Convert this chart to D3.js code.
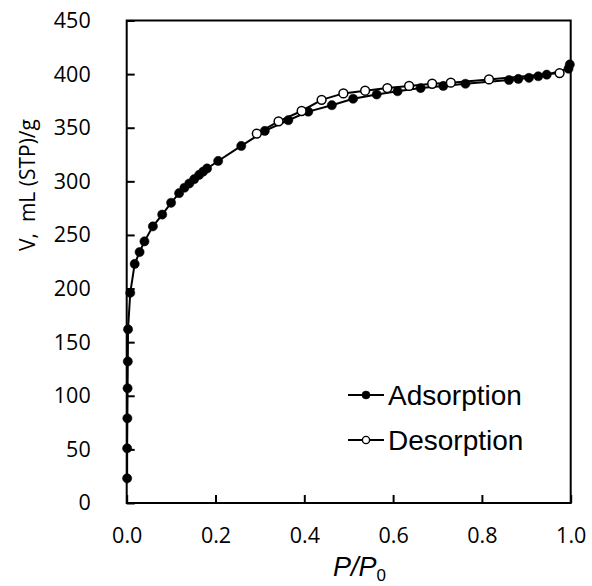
<!DOCTYPE html>
<html>
<head>
<meta charset="utf-8">
<script src="https://cdn.jsdelivr.net/npm/d3@7"></script>
<style>
  html, body { margin: 0; padding: 0; background: #fff; }
  svg { display: block; }
</style>
</head>
<body>
<svg id="chart" width="592" height="586"></svg>
<script>
// ---- data ----
const adsP = [0.001, 0.001, 0.0015, 0.002, 0.0025, 0.003, 0.008, 0.018, 0.029, 0.040, 0.059, 0.080, 0.100, 0.118, 0.130, 0.141, 0.152, 0.163, 0.172, 0.181, 0.206, 0.258, 0.311, 0.364, 0.409, 0.462, 0.510, 0.563, 0.610, 0.662, 0.713, 0.763, 0.861, 0.882, 0.906, 0.927, 0.946, 0.995, 0.998];
const adsV = [23, 51, 79, 107, 132, 162, 196, 223, 234, 244, 258, 269, 280, 289, 294, 298, 302, 306, 309, 312, 319, 333, 347, 357, 365, 371, 377, 381, 384, 387, 389, 391, 394.5, 395.5, 396.5, 398, 399.5, 405, 409];
const desP = [0.975, 0.816, 0.730, 0.688, 0.636, 0.587, 0.537, 0.488, 0.439, 0.394, 0.342, 0.293];
const desV = [401, 395, 392, 391, 389, 387, 384.5, 382, 376, 365.6, 356, 344.5];
const xTicks = [0, 0.2, 0.4, 0.6, 0.8, 1.0];
const yTicks = [0, 50, 100, 150, 200, 250, 300, 350, 400, 450];
const seriesNames = ["Adsorption", "Desorption"];

const svg = d3.select("#chart");
const L = 126.7, R = 570.7, T = 20.5, B = 503;

const x = d3.scaleLinear().domain([0, 1]).range([L, R]);
const y = d3.scaleLinear().domain([0, 450]).range([B, T]);

const tickFont = "'Open Sans', sans-serif";

// axes
const gx = svg.append("g").attr("transform", `translate(0,${B})`)
  .call(d3.axisBottom(x).tickValues(xTicks).tickFormat(d3.format(".1f")).tickSize(-8).tickPadding(25));
const gy = svg.append("g").attr("transform", `translate(${L},0)`)
  .call(d3.axisLeft(y).tickValues(yTicks).tickFormat(d3.format("d")).tickSize(-8).tickPadding(36));
[gx, gy].forEach(g => {
  g.select(".domain").remove();
  g.selectAll(".tick line").attr("stroke", "#000").attr("stroke-width", 2);
  g.selectAll(".tick text").attr("fill", "#000").style("font-family", tickFont).style("font-size", "21.5px");
});

// frame
svg.append("rect").attr("x", L).attr("y", T).attr("width", R - L).attr("height", B - T)
  .attr("fill", "none").attr("stroke", "#000").attr("stroke-width", 2);

// data
const ads = adsP.map((p, i) => [p, adsV[i]]);
const des = desP.map((p, i) => [p, desV[i]]);
const line = d3.line().x(d => x(d[0])).y(d => y(d[1]));

function drawSeries(data, fill) {
  svg.append("path").attr("d", line(data)).attr("fill", "none").attr("stroke", "#000").attr("stroke-width", 2);
  svg.append("g").selectAll("circle").data(data).join("circle")
    .attr("cx", d => x(d[0])).attr("cy", d => y(d[1]))
    .attr("r", fill === "#000" ? 4.6 : 4.4)
    .attr("fill", fill).attr("stroke", "#000").attr("stroke-width", fill === "#000" ? 0.5 : 1.5);
}
drawSeries(ads, "#000");
drawSeries(des, "#fff");

// legend
const legFont = "'Liberation Sans', Arial, sans-serif";
[[seriesNames[0], "#000", 395], [seriesNames[1], "#fff", 440]].forEach(([name, fill, cy]) => {
  svg.append("line").attr("x1", 348).attr("x2", 384).attr("y1", cy).attr("y2", cy)
    .attr("stroke", "#000").attr("stroke-width", 2);
  svg.append("circle").attr("cx", 366).attr("cy", cy).attr("r", fill === "#000" ? 4 : 3.6)
    .attr("fill", fill).attr("stroke", "#000").attr("stroke-width", fill === "#000" ? 0.5 : 1.4);
  svg.append("text").attr("x", 388).attr("y", cy + 10).text(name)
    .style("font-family", legFont).style("font-size", "28px").attr("fill", "#000");
});

// axis titles
svg.append("text").attr("transform", "translate(35,185) rotate(-90)").attr("text-anchor", "middle")
  .style("font-family", tickFont).style("font-size", "21px").attr("fill", "#000")
  .text("V,\u00a0 mL (STP)/g");

const xt = svg.append("text").attr("x", 333).attr("y", 576)
  .style("font-family", legFont).style("font-size", "27px").style("font-style", "italic").attr("fill", "#000");
xt.append("tspan").text("P/P");
xt.append("tspan").attr("dy", 5).style("font-size", "17px").style("font-style", "normal").text("0");
</script>
</body>
</html>
